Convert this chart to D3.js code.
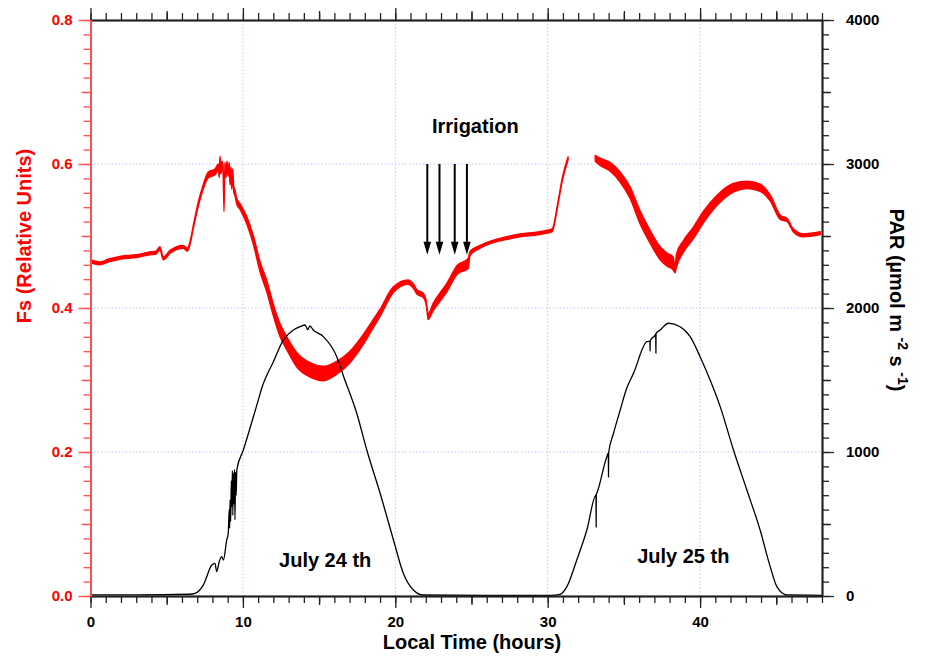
<!DOCTYPE html>
<html>
<head>
<meta charset="utf-8">
<script src="https://cdn.jsdelivr.net/npm/d3@7"></script>
<style>
  body { margin: 0; background: #fff; }
  text { font-family: "Liberation Sans", Arial, sans-serif; font-weight: bold; }
</style>
</head>
<body>
<div class="graph"></div>
<script>
// Fs (red, left axis): time, value, half width of the noise band
const fsTime = [0,0.6,1.2,2.0,3.0,3.9,4.3,4.55,4.78,5.22,6.09,6.35,6.53,6.75,7.08,7.41,7.73,8.17,8.39,8.45,8.50,8.56,8.62,8.70,8.76,8.82,8.89,8.95,9.04,9.10,9.16,9.22,9.27,9.33,9.40,9.48,9.60,9.81,10.25,10.69,11.13,11.57,12.0,12.44,12.88,13.54,14.41,15.28,16.16,17.03,17.89,18.40,18.99,19.86,20.84,21.20,21.43,21.82,22.00,22.09,22.15,22.48,23.40,24.06,24.78,24.91,25.57,27.73,29.96,30.29,30.68,30.95,31.34,32.2,33.12,33.44,34.10,34.75,35.41,36.06,36.72,37.38,37.84,38.23,38.36,38.45,38.89,39.55,40.21,41.13,42.18,43.09,43.94,44.60,45.26,45.72,46.11,46.77,47.89]
const fsValue = [.465,.462,.466,.470,.472,.476,.477,.483,.469,.478,.485,.481,.490,.513,.545,.569,.585,.589,.596,.585,.608,.590,.600,.592,.536,.598,.585,.600,.587,.598,.575,.592,.569,.589,.565,.560,.548,.541,.522,.494,.457,.430,.397,.369,.351,.328,.314,.309,.317,.332,.356,.373,.393,.425,.436,.430,.422,.418,.410,.397,.388,.401,.429,.453,.462,.476,.485,.499,.506,.508,.546,.578,.608,null,.608,.603,.596,.582,.560,.526,.499,.476,.467,.462,.453,.466,.485,.504,.526,.550,.567,.571,.567,.553,.526,.522,.508,.501,.504]
const fsNoise = [.002,.002,.002,.002,.002,.002,.002,.002,.002,.002,.002,.002,.002,.002,.003,.003,.004,.004,.004,.004,.003,.004,.004,.004,.002,.004,.004,.004,.004,.004,.004,.004,.004,.004,.004,.004,.004,.004,.005,.006,.007,.008,.008,.009,.009,.010,.010,.010,.009,.008,.007,.006,.005,.004,.003,.003,.003,.003,.003,.003,.004,.005,.006,.006,.007,.003,.002,.002,.002,.002,.002,.002,.002,0,.004,.005,.006,.007,.008,.009,.009,.009,.009,.009,.004,.009,.008,.008,.008,.007,.006,.005,.005,.004,.003,.002,.002,.002,.002]

// PAR (black, right axis)
const parTime = [0,3,6.5,6.86,7.40,7.96,8.17,8.28,8.45,8.61,8.72,8.94,9.04,9.10,9.13,9.16,9.20,9.24,9.27,9.31,9.34,9.37,9.41,9.45,9.48,9.52,9.56,9.60,10.03,10.69,11.01,11.24,12.00,12.66,13.31,13.80,14.08,14.25,14.40,14.62,15.28,16.16,16.59,17.47,18.13,19.00,19.88,20.53,21.19,21.84,26,30.2,30.81,31.26,31.91,32.57,33.17,33.18,33.19,33.23,33.88,33.98,33.99,34.00,34.32,34.76,35.19,35.63,36.51,36.71,36.72,36.73,37.05,37.09,37.10,37.11,37.38,37.93,38.69,39.35,40.00,40.66,41.32,42.19,43.07,43.94,44.60,45.04,45.70,48]
const parValue = [8,8,12,18,76,215,227,169,240,273,250,389,437,600,470,667,520,800,620,870,560,854,640,880,528,860,700,875,1014,1245,1361,1444,1627,1778,1847,1872,1882,1850,1875,1847,1801,1662,1530,1269,1014,715,389,157,42,7,5,5,12,65,250,458,700,479,705,715,967,993,826,995,1130,1292,1444,1546,1766,1770,1700,1775,1812,1820,1686,1822,1847,1894,1870,1801,1662,1500,1315,1014,736,458,204,65,7,5]

const fsTicks = [0, 0.2, 0.4, 0.6, 0.8]
const parTicks = [0, 1000, 2000, 3000, 4000]
const timeTicks = [0, 10, 20, 30, 40]
const irrigationTimes = [22.1, 22.9, 23.9, 24.7]

const w = 928
const h = 657

const svg = d3.select(".graph")
  .append("svg")
  .attr("width", w)
  .attr("height", h)
  .style("background", "#fff")

const x = d3.scaleLinear().domain([0, 48]).range([90.5, 822])
const yL = d3.scaleLinear().domain([0, 0.8]).range([596, 20])
const yR = d3.scaleLinear().domain([0, 4000]).range([596, 20])

// grid
svg.append("g").selectAll("line")
  .data(timeTicks.slice(1))
  .enter().append("line")
  .attr("x1", d => x(d)).attr("x2", d => x(d))
  .attr("y1", yL(0)).attr("y2", yL(0.8))
  .attr("stroke", "#c4c4f4").attr("stroke-dasharray", "1.5,2")
svg.append("g").selectAll("line")
  .data(fsTicks.slice(0, -1))
  .enter().append("line")
  .attr("x1", x(0)).attr("x2", x(48))
  .attr("y1", d => yL(d)).attr("y2", d => yL(d))
  .attr("stroke", "#c4c4f4").attr("stroke-dasharray", "1.5,2")

// Fs band + line
const fsData = fsTime.map((t, i) => ({t: t, v: fsValue[i], s: fsNoise[i]}))
const band = d3.area()
  .defined(d => d.v != null)
  .curve(d3.curveMonotoneX)
  .x(d => x(d.t))
  .y0(d => yL(d.v - d.s))
  .y1(d => yL(d.v + d.s))
svg.append("path")
  .datum(fsData)
  .attr("d", band)
  .attr("fill", "#ff0000")
  .attr("stroke", "#ff0000")
  .attr("stroke-width", 1.4)
  .attr("stroke-linejoin", "round")

// PAR line
const parData = parTime.map((t, i) => ({t: t, v: parValue[i]}))
svg.append("path")
  .datum(parData)
  .attr("d", d3.line().curve(d3.curveMonotoneX).x(d => x(d.t)).y(d => yR(d.v)))
  .attr("fill", "none")
  .attr("stroke", "#000")
  .attr("stroke-width", 1.3)

// axes with minor / medium / major ticks
function ticks(axisFn, scale, minor, medium, major, color, labels, pad) {
  const g = svg.append("g")
  g.append("g").call(axisFn(scale).tickValues(minor).tickSize(7).tickSizeOuter(0).tickFormat(""))
  g.append("g").call(axisFn(scale).tickValues(medium).tickSize(9).tickSizeOuter(0).tickFormat(""))
  g.append("g").call(axisFn(scale).tickValues(major).tickSize(12).tickSizeOuter(0).tickPadding(pad).tickFormat(labels))
  g.selectAll("line").attr("stroke", color).attr("stroke-width", 1.3)
  g.selectAll("path").attr("stroke", color).attr("stroke-width", 1.5)
  g.selectAll("text").attr("font-size", 15).attr("font-family", "'Liberation Sans', Arial, sans-serif").attr("font-weight", "bold")
  return g
}

const hourMinor = d3.range(0, 49, 1)
const hourMed = [5, 15, 25, 35, 45]
ticks(d3.axisBottom, x, hourMinor, hourMed, timeTicks, "#222", d3.format("d"), 8)
  .attr("transform", "translate(0," + yL(0) + ")")
  .selectAll("text").attr("fill", "#000")
ticks(d3.axisTop, x, hourMinor, hourMed, timeTicks, "#222", "", 0)
  .attr("transform", "translate(0," + yL(0.8) + ")")

ticks(d3.axisLeft, yL, d3.range(0, 0.81, 0.02), [0.1, 0.3, 0.5, 0.7], fsTicks, "#ff4a4a", d3.format(".1f"), 6)
  .attr("transform", "translate(" + x(0) + ",0)")
  .selectAll("text").attr("fill", "#ff0000")

ticks(d3.axisRight, yR, d3.range(0, 4001, 100), [500, 1500, 2500, 3500], parTicks, "#222", d3.format("d"), 12)
  .attr("transform", "translate(" + x(48) + ",0)")
  .selectAll("text").attr("fill", "#000")

// axis titles
svg.append("text")
  .attr("transform", "translate(31,236) rotate(-90)")
  .attr("text-anchor", "middle")
  .attr("font-size", 20)
  .attr("fill", "#ff0000")
  .text("Fs (Relative Units)")

svg.append("text")
  .attr("x", 472).attr("y", 649)
  .attr("text-anchor", "middle")
  .attr("font-size", 20)
  .text("Local Time (hours)")

const par = svg.append("text")
  .attr("transform", "translate(890,300) rotate(90)")
  .attr("text-anchor", "middle")
  .attr("font-size", 20)
par.append("tspan").text("PAR  (µmol m ")
par.append("tspan").attr("dy", -8).attr("font-size", 14).text("-2")
par.append("tspan").attr("dy", 8).text(" s ")
par.append("tspan").attr("dy", -8).attr("font-size", 14).text("-1")
par.append("tspan").attr("dy", 8).text(")")

// annotations
const notes = [
  {text: "Irrigation", t: 25.25, v: 0.643},
  {text: "July 24 th", t: 15.4, v: 0.040},
  {text: "July 25 th", t: 38.9, v: 0.046}
]
svg.selectAll(".note")
  .data(notes)
  .enter().append("text")
  .attr("class", "note")
  .attr("x", d => x(d.t))
  .attr("y", d => yL(d.v))
  .attr("text-anchor", "middle")
  .attr("font-size", 20)
  .text(d => d.text)

// irrigation arrows
const arrows = svg.append("g").selectAll("g")
  .data(irrigationTimes)
  .enter().append("g")
arrows.append("line")
  .attr("x1", d => x(d)).attr("x2", d => x(d))
  .attr("y1", yL(0.6)).attr("y2", yL(0.474) - 10)
  .attr("stroke", "#000").attr("stroke-width", 2)
arrows.append("path")
  .attr("d", d => "M" + (x(d) - 3.8) + "," + (yL(0.474) - 13) + "L" + (x(d) + 3.8) + "," + (yL(0.474) - 13) + "L" + x(d) + "," + yL(0.474) + "Z")
  .attr("fill", "#000")
</script>
</body>
</html>
